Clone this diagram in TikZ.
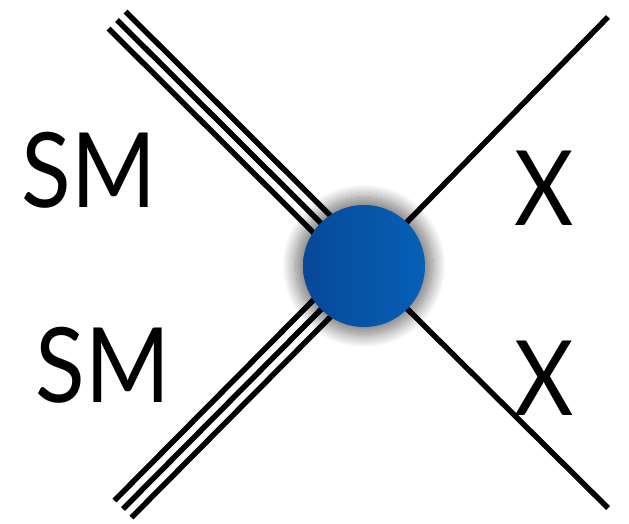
\documentclass[tikz,border=0pt]{standalone}
\usepackage{fontspec}
\setmainfont{Lato}
\usetikzlibrary{shadows.blur,calc}
\definecolor{blobL}{RGB}{8,72,152}
\definecolor{blobR}{RGB}{6,96,182}
\tikzset{
  leg/.style={line width=5.5pt, black},
  lab/.style={inner sep=0pt, anchor=center, xscale=0.88, font=\fontsize{104}{104}\selectfont},
}
\begin{document}
\begin{tikzpicture}[x=1pt,y=-1pt]
\useasboundingbox (0,0) rectangle (629,523);
\coordinate (c) at (364,266);
\coordinate (tl) at (117,20);
\coordinate (bl) at (123,509);
\coordinate (tr) at (608,17);
\coordinate (br) at (608,508);
% triple lines
\foreach \o in {-1,0,1}{
  \draw[leg] ($(tl)+(\o*8.5,-\o*8.5)$) -- ($(c)+(\o*8.5,-\o*8.5)$);
  \draw[leg] ($(bl)+(\o*8.5,\o*8.5)$) -- ($(c)+(\o*8.5,\o*8.5)$);
}
\draw[leg] (tr) -- (c);
\draw[leg] (br) -- (c);
\node[circle, minimum size=122pt, inner sep=0pt, left color=blobL, right color=blobR,
  blur shadow={shadow xshift=0pt, shadow yshift=0pt, shadow scale=1.12, shadow blur radius=12pt, shadow blur steps=20, shadow opacity=55}] (blob) at (c) {};
\node[lab] (sm1) at (89,170) {SM};
\node[lab] (sm2) at (103,365) {SM};
\node[lab] (x1) at (544,188) {X};
\node[lab] (x2) at (544,378) {X};
\end{tikzpicture}
\end{document}
